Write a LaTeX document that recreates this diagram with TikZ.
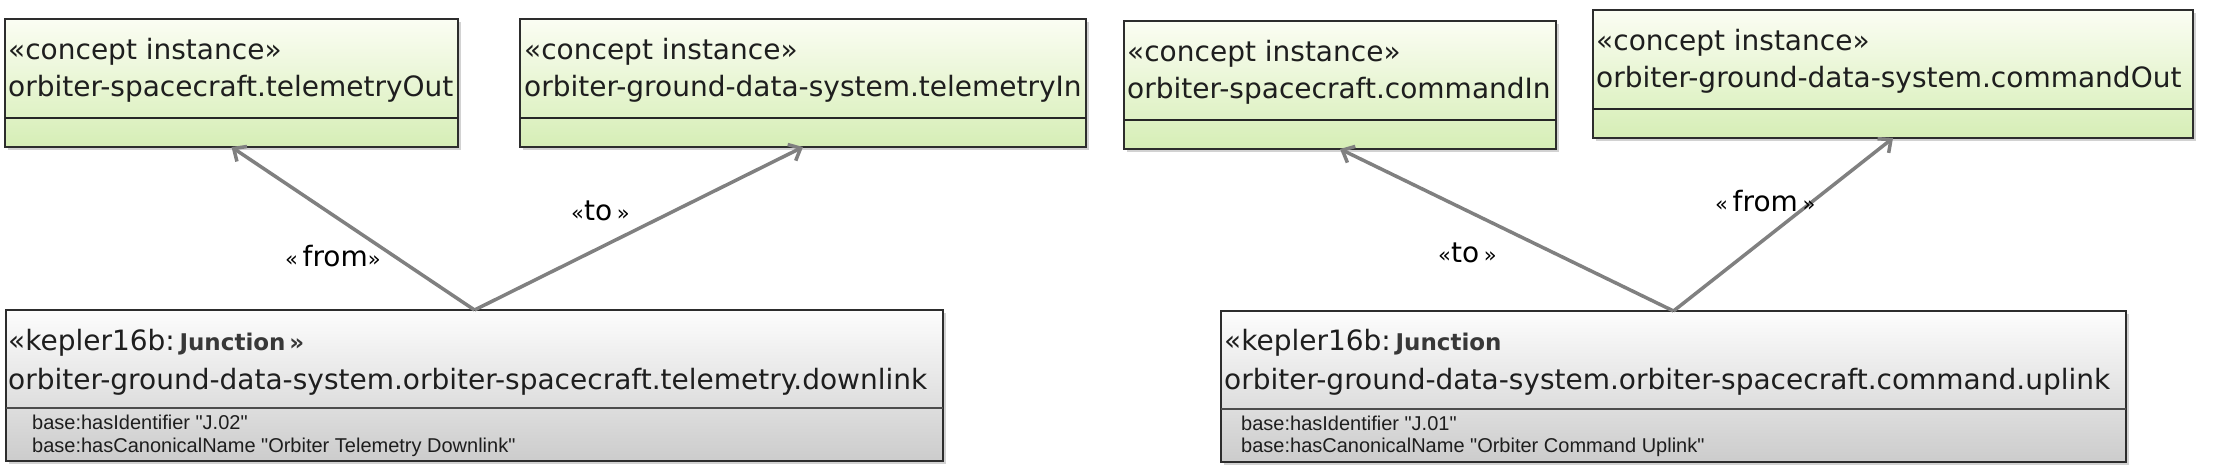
\documentclass[tikz,border=0pt]{standalone}
\usepackage{fontspec}
\setmainfont{DejaVu Sans}
\newfontfamily\attrfont{Liberation Sans}
\usetikzlibrary{arrows.meta,shadows,calc}
\definecolor{gtop}{RGB}{251,253,243}
\definecolor{gbot}{RGB}{214,238,182}
\definecolor{wtop}{RGB}{253,253,253}
\definecolor{wbot}{RGB}{204,204,204}
\definecolor{edgec}{RGB}{45,45,45}
\definecolor{connc}{RGB}{128,128,128}
\definecolor{txtc}{RGB}{30,30,30}
\newcommand{\sq}[1]{{\fontsize{21}{24}\selectfont #1}}
\newcommand{\jn}[1]{{\fontsize{23}{28}\selectfont\bfseries\color{black!78}#1}}
\begin{document}
\begin{tikzpicture}[x=1pt,y=-1pt,
  boxbase/.style={rectangle, draw=edgec, line width=2pt, anchor=north west, inner sep=0pt, outer sep=0pt,
    drop shadow={shadow xshift=3pt, shadow yshift=-3pt, opacity=0.35}},
  concept/.style={boxbase, top color=gtop, bottom color=gbot, minimum height=128pt},
  junction/.style={boxbase, top color=wtop, bottom color=wbot, minimum height=151pt},
  ttl/.style={anchor=base west, inner sep=0pt, text=txtc, font=\fontsize{28}{34}\selectfont},
  attr/.style={anchor=base west, inner sep=0pt, text=txtc, font=\attrfont\fontsize{20}{23}\selectfont},
  lbl/.style={anchor=base west, inner sep=0pt, font=\fontsize{28}{30}\selectfont},
  divider/.style={line width=1.5pt, draw=black!85},
  conn/.style={draw=connc, line width=3.5pt, -{Straight Barb[length=10pt,width=18pt]}}
]
\fill[white] (0,0) rectangle (2217,470);
\useasboundingbox (0,0) rectangle (2217,470);

% concept instance boxes
\node[concept, minimum width=453pt] (b1) at (5,19) {};
\node[concept, minimum width=566pt] (b2) at (520,19) {};
\node[concept, minimum width=432pt] (b3) at (1124,21) {};
\node[concept, minimum width=600pt] (b4) at (1593,10) {};

\foreach \b in {b1,b2,b3,b4}{
  \draw[divider] ($(\b.north west)+(0,99)$) -- ($(\b.north east)+(0,99)$);
}

\node[ttl] (b1s) at ($(b1.north west)+(3,41)$) {«concept instance»};
\node[ttl] (b1n) at ($(b1.north west)+(3,78)$) {orbiter-spacecraft.telemetryOut};
\node[ttl] (b2s) at ($(b2.north west)+(4,41)$) {«concept instance»};
\node[ttl] (b2n) at ($(b2.north west)+(4,78)$) {orbiter-ground-data-system.telemetryIn};
\node[ttl] (b3s) at ($(b3.north west)+(3,41)$) {«concept instance»};
\node[ttl] (b3n) at ($(b3.north west)+(3,78)$) {orbiter-spacecraft.commandIn};
\node[ttl] (b4s) at ($(b4.north west)+(3,41)$) {«concept instance»};
\node[ttl] (b4n) at ($(b4.north west)+(3,78)$) {orbiter-ground-data-system.commandOut};

% junction boxes
\node[junction, minimum width=937pt] (j1) at (6,310) {};
\node[junction, minimum width=905pt] (j2) at (1221,311) {};
\foreach \b in {j1,j2}{
  \draw[line width=1.5pt, draw=black!70] ($(\b.north west)+(0,98)$) -- ($(\b.north east)+(0,98)$);
}

\node[ttl] (j1s) at ($(j1.north west)+(2,40)$) {«kepler16b:\,\jn{Junction\,»}};
\node[ttl] (j1n) at ($(j1.north west)+(2,79)$) {orbiter-ground-data-system.orbiter-spacecraft.telemetry.downlink};
\node[attr] (j1a) at ($(j1.north west)+(26,119)$) {base:hasIdentifier "J.02"};
\node[attr] (j1b) at ($(j1.north west)+(26,142)$) {base:hasCanonicalName "Orbiter Telemetry Downlink"};

\node[ttl] (j2s) at ($(j2.north west)+(3,40)$) {«kepler16b:\,\jn{Junction}};
\node[ttl] (j2n) at ($(j2.north west)+(3,78)$) {orbiter-ground-data-system.orbiter-spacecraft.command.uplink};
\node[attr] (j2a) at ($(j2.north west)+(20,119)$) {base:hasIdentifier "J.01"};
\node[attr] (j2b) at ($(j2.north west)+(20,141)$) {base:hasCanonicalName "Orbiter Command Uplink"};

% connectors
\draw[conn] (j1.north) -- (b1.south);
\draw[conn] (j1.north) -- (b2.south);
\draw[conn] (j2.north) -- (b3.south);
\draw[conn] (j2.north) -- (b4.south);

% labels
\node[lbl] (l1) at (285,267) {\sq{«}\,from\sq{»}};
\node[lbl] (l2) at (571,221) {\sq{«}to\,\sq{»}};
\node[lbl] (l3) at (1438,263) {\sq{«}to\,\sq{»}};
\node[lbl] (l4) at (1715,212) {\sq{«}\,from\,\sq{»}};
\end{tikzpicture}
\end{document}
